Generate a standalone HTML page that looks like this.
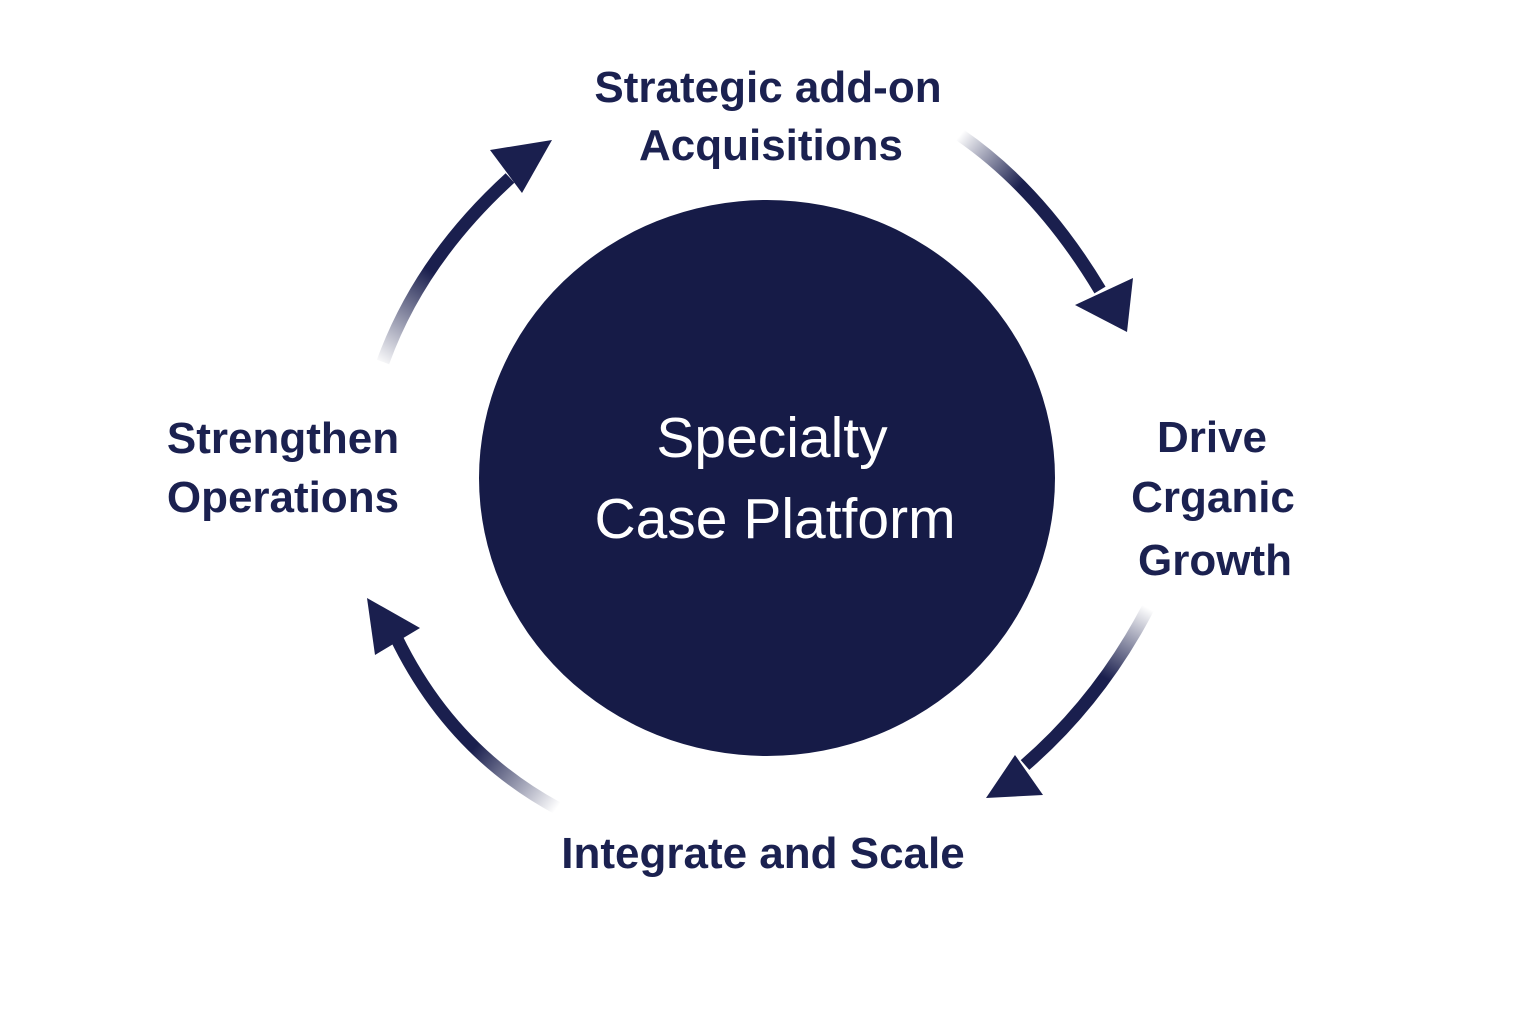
<!DOCTYPE html>
<html><head><meta charset="utf-8"><style>
html,body{margin:0;padding:0;background:#fff;}
body{width:1536px;height:1024px;position:relative;overflow:hidden;font-family:"Liberation Sans",sans-serif;}
svg{position:absolute;left:0;top:0;}
</style></head><body>
<svg width="1536" height="1024" viewBox="0 0 1536 1024">
<defs>
<linearGradient id="g1" gradientUnits="userSpaceOnUse" x1="380" y1="365" x2="500" y2="190"><stop offset="0" stop-color="#1a1f4e" stop-opacity="0"/><stop offset="0.5" stop-color="#1a1f4e"/></linearGradient>
<linearGradient id="g2" gradientUnits="userSpaceOnUse" x1="960" y1="135" x2="1060" y2="220"><stop offset="0" stop-color="#1a1f4e" stop-opacity="0"/><stop offset="0.6" stop-color="#1a1f4e"/></linearGradient>
<linearGradient id="g3" gradientUnits="userSpaceOnUse" x1="1148" y1="608" x2="1090" y2="710"><stop offset="0" stop-color="#1a1f4e" stop-opacity="0"/><stop offset="0.7" stop-color="#1a1f4e"/></linearGradient>
<linearGradient id="g4" gradientUnits="userSpaceOnUse" x1="557" y1="808" x2="440" y2="720"><stop offset="0" stop-color="#1a1f4e" stop-opacity="0"/><stop offset="0.7" stop-color="#1a1f4e"/></linearGradient>
</defs>
<ellipse cx="767" cy="478" rx="288" ry="278" fill="#161b47"/>
<path d="M383,362 Q420,260 510,178" stroke="url(#g1)" stroke-width="13" fill="none"/>
<polygon points="490,150 552,140 522,193" fill="#1a1f4e"/>
<path d="M960,135 Q1040,190 1100,290" stroke="url(#g2)" stroke-width="13" fill="none"/>
<polygon points="1075,305 1133,278 1127,332" fill="#1a1f4e"/>
<path d="M1148,608 Q1100,700 1025,765" stroke="url(#g3)" stroke-width="13" fill="none"/>
<polygon points="1015,755 1043,795 986,798" fill="#1a1f4e"/>
<path d="M557,808 Q450,750 395,635" stroke="url(#g4)" stroke-width="13" fill="none"/>
<polygon points="367,598 420,628 375,655" fill="#1a1f4e"/>
<g font-family="Liberation Sans, sans-serif" text-anchor="middle">
<text x="772" y="457" font-size="57" fill="#fff">Specialty</text>
<text x="775" y="538" font-size="57" fill="#fff">Case Platform</text>
<g font-size="44" font-weight="bold" fill="#1b2150">
<text x="768" y="102">Strategic add-on</text>
<text x="771" y="160">Acquisitions</text>
<text x="283" y="453">Strengthen</text>
<text x="283" y="512">Operations</text>
<text x="1212" y="452">Drive</text>
<text x="1213" y="512">Crganic</text>
<text x="1215" y="575">Growth</text>
<text x="763" y="868">Integrate and Scale</text>
</g></g>
</svg>
</body></html>
